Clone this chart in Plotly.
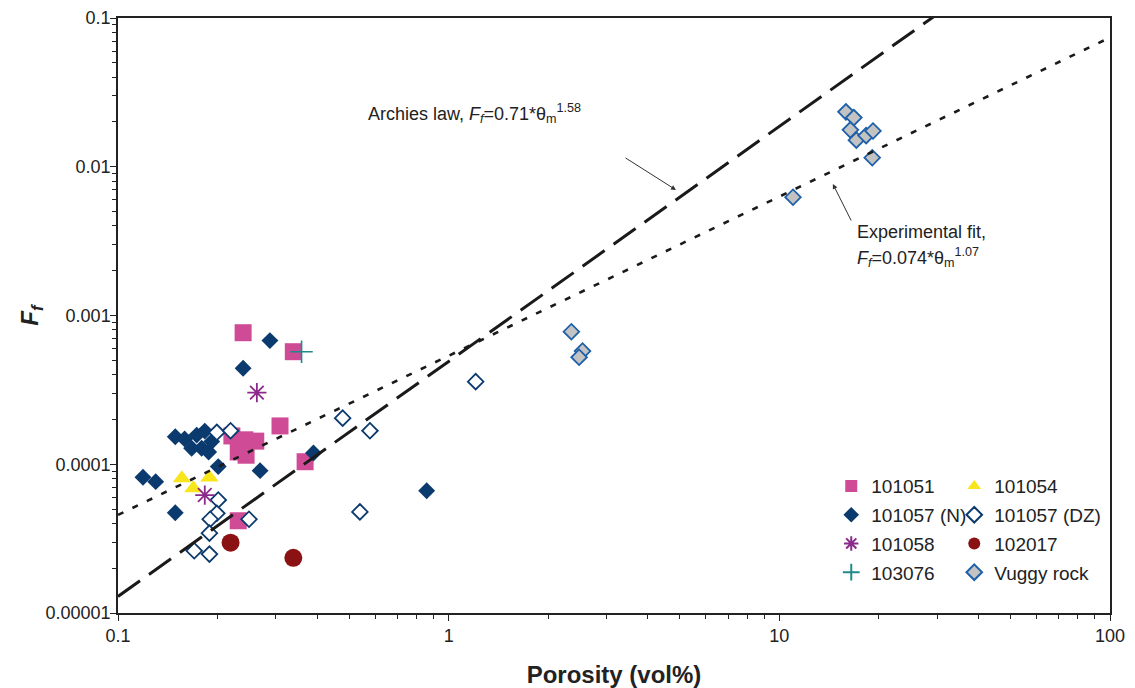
import math
import plotly.graph_objects as go

# ---------------- data ----------------
s101051_x = [0.239, 0.339, 0.309, 0.368, 0.231, 0.221, 0.242, 0.261, 0.231, 0.244]
s101051_y = [7.66e-4, 5.71e-4, 1.81e-4, 1.04e-4, 4.17e-5, 1.55e-4, 1.46e-4, 1.43e-4, 1.21e-4, 1.15e-4]

s101054_x = [0.156, 0.169, 0.189]
s101054_y = [8.05e-5, 6.9e-5, 8.13e-5]

s101057n_x = [0.288, 0.239, 0.390, 0.269, 0.201, 0.119, 0.130, 0.149, 0.858,
              0.149, 0.159, 0.167, 0.173, 0.183, 0.179, 0.188, 0.192]
s101057n_y = [6.78e-4, 4.42e-4, 1.19e-4, 9.06e-5, 9.64e-5, 8.17e-5, 7.64e-5, 4.72e-5, 6.64e-5,
              1.53e-4, 1.48e-4, 1.28e-4, 1.57e-4, 1.67e-4, 1.28e-4, 1.21e-4, 1.42e-4]

s101057dz_x = [0.199, 0.219, 0.201, 0.199, 0.190, 0.189, 0.170, 0.189, 0.249, 0.478, 0.578, 1.207, 0.539]
s101057dz_y = [1.64e-4, 1.68e-4, 5.75e-5, 4.68e-5, 4.27e-5, 3.44e-5, 2.62e-5, 2.49e-5, 4.27e-5,
               2.04e-4, 1.68e-4, 3.59e-4, 4.78e-5]

s101058_x = [0.263, 0.183]
s101058_y = [3.03e-4, 6.21e-5]

s102017_x = [0.219, 0.339]
s102017_y = [2.97e-5, 2.35e-5]

s103076_x = [0.359]
s103076_y = [5.71e-4]

vuggy_x = [2.35, 2.54, 2.48, 11.0, 15.9, 16.8, 16.4, 17.1, 18.3, 19.2, 19.1]
vuggy_y = [7.78e-4, 5.77e-4, 5.24e-4, 6.24e-3, 2.34e-2, 2.14e-2, 1.77e-2, 1.51e-2, 1.62e-2, 1.74e-2, 1.15e-2]

# fitted laws: Ff = a * theta^b, theta as a fraction (vol% / 100)
archie_a, archie_b = 0.71, 1.58
exp_a, exp_b = 0.074, 1.07
line_x = [0.1, 100]

x_ticks = [0.1, 1, 10, 100]
x_ticktext = ["0.1", "1", "10", "100"]
y_ticks = [1e-5, 1e-4, 1e-3, 1e-2, 1e-1]
y_ticktext = ["0.00001", "0.0001", "0.001", "0.01", "0.1"]

FONT = "Arial, Liberation Sans, sans-serif"
NAVY = "#0b3a6e"

fig = go.Figure()

def add(name, x, y, legend, **marker):
    fig.add_trace(go.Scatter(x=x, y=y, mode="markers", name=name, legend=legend,
                             legendgroup=name, marker=marker))

add("101051", s101051_x, s101051_y, "legend", symbol="square", size=17, color="#d04b96",
    line=dict(width=0))
add("101054", s101054_x, s101054_y, "legend2", symbol="triangle-up", size=16, color="#f8e51c",
    line=dict(width=0))
add("101057 (N)", s101057n_x, s101057n_y, "legend", symbol="diamond", size=13, color=NAVY,
    line=dict(width=0))
add("101057 (DZ)", s101057dz_x, s101057dz_y, "legend2", symbol="diamond", size=12, color="white",
    line=dict(width=1.8, color=NAVY))
add("101058", s101058_x, s101058_y, "legend", symbol="asterisk-open", size=16, color="#8b2a8a",
    line=dict(width=1.8, color="#8b2a8a"))
add("102017", s102017_x, s102017_y, "legend2", symbol="circle", size=18, color="#8b1212",
    line=dict(width=0))
add("103076", s103076_x, s103076_y, "legend", symbol="cross-thin-open", size=16, color="#1f8a8a",
    line=dict(width=1.6, color="#1f8a8a"))
add("Vuggy rock", vuggy_x, vuggy_y, "legend2", symbol="diamond", size=12, color="#c3c3c3",
    line=dict(width=1.8, color="#1d5fa8"))

archie_y = [archie_a * (v / 100) ** archie_b for v in line_x]
exp_y = [exp_a * (v / 100) ** exp_b for v in line_x]
fig.add_trace(go.Scatter(x=line_x, y=archie_y, mode="lines", showlegend=False,
                         line=dict(color="#1a1a1a", width=3, dash="27px,11px")))
fig.add_trace(go.Scatter(x=line_x, y=exp_y, mode="lines", showlegend=False,
                         line=dict(color="#1a1a1a", width=2.6, dash="6px,10px")))

axis_common = dict(type="log", showgrid=False, zeroline=False, showline=True, linecolor="#222",
                   linewidth=1.5, mirror=True, ticks="outside", ticklen=6, tickwidth=1.2,
                   tickcolor="#222", tickfont=dict(family=FONT, size=18, color="#222"),
                   automargin=False,
                   minor=dict(ticks="outside", ticklen=4, tickwidth=1, tickcolor="#222",
                              dtick="D1", showgrid=False))

fig.update_xaxes(range=[-1, 2], tickvals=x_ticks, ticktext=x_ticktext,
                 title=dict(text="<b>Porosity (vol%)</b>", font=dict(family=FONT, size=24, color="#222"),
                            standoff=24), **axis_common)
fig.update_yaxes(range=[-5, -1], tickvals=y_ticks, ticktext=y_ticktext, ticklabelstandoff=-4,
                 title=dict(text="<b><i>F<sub>f</sub></i></b>", font=dict(family=FONT, size=24, color="#222"),
                            standoff=0), **axis_common)

ann_font = dict(family=FONT, size=18, color="#222")
annotations = [
    dict(x=-0.25, y=-1.639, xref="x", yref="y", xanchor="left", yanchor="middle", showarrow=False,
         text="Archies law, <i>F<sub>f</sub></i>=0.71*θ<sub>m</sub><sup>1.58</sup>", font=ann_font),
    dict(x=1.2286, y=-2.439, xref="x", yref="y", xanchor="left", yanchor="middle", showarrow=False,
         text="Experimental fit,", font=ann_font),
    dict(x=1.2286, y=-2.613, xref="x", yref="y", xanchor="left", yanchor="middle", showarrow=False,
         text="<i>F<sub>f</sub></i>=0.074*θ<sub>m</sub><sup>1.07</sup>", font=ann_font),
    dict(x=math.log10(4.87), y=-2.156, xref="x", yref="y", text="", showarrow=True,
         ax=-52, ay=-33, arrowhead=2, arrowsize=1, arrowwidth=1, arrowcolor="#333"),
    dict(x=1.162, y=-2.116, xref="x", yref="y", text="", showarrow=True,
         ax=19, ay=38, arrowhead=2, arrowsize=1, arrowwidth=1, arrowcolor="#333"),
]

leg_common = dict(bgcolor="rgba(0,0,0,0)", font=dict(family=FONT, size=19, color="#222"),
                  xanchor="left", yanchor="top", tracegroupgap=1, itemsizing="constant")
fig.update_layout(
    width=1135, height=688,
    margin=dict(l=118, r=25, t=18, b=75),
    paper_bgcolor="white", plot_bgcolor="white",
    font=dict(family=FONT, color="#222"),
    annotations=annotations,
    legend=dict(x=0.719, y=0.245, **leg_common),
    legend2=dict(x=0.843, y=0.245, **leg_common),
)

fig.write_html("out.html")
